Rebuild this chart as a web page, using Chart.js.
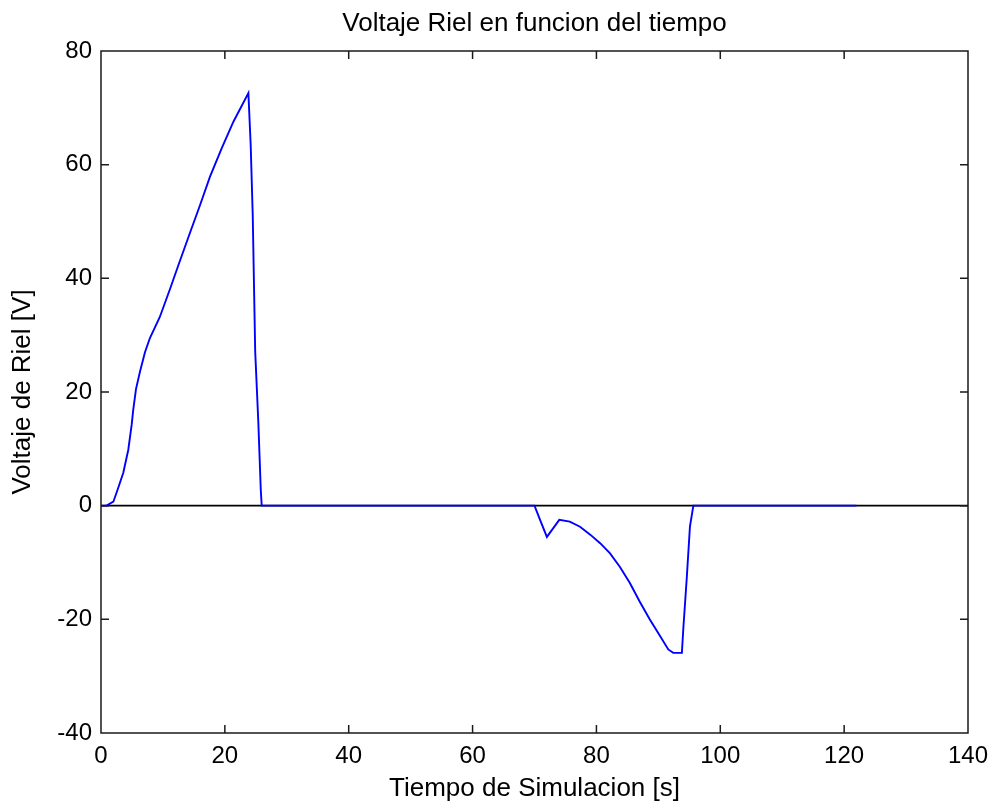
<!DOCTYPE html>
<html>
<head>
<meta charset="utf-8">
<title>Voltaje Riel en funcion del tiempo</title>
<script src="https://cdn.jsdelivr.net/npm/chart.js@4/dist/chart.umd.min.js"></script>
<style>
  html, body { margin: 0; padding: 0; background: #fff; }
  #chart { display: block; }
</style>
</head>
<body>
<canvas id="chart" width="993" height="806"></canvas>
<script>
// Rail voltage vs. simulation time (s)
const timeSeconds = [
  0, 0.9, 2.0, 2.8, 3.6, 4.4, 4.95, 5.2, 5.65, 6.3, 7.1, 7.9, 9.5, 11.1, 12.75,
  14.4, 16.0, 17.6, 19.5, 21.4, 23.8,
  24.17, 24.5, 24.7, 24.9, 25.4, 25.8, 25.95,
  70.0, 70.9, 72.0, 72.8, 74.0, 75.7, 77.35, 79.0, 80.6, 82.2, 83.8, 85.4, 87.0,
  88.6, 90.25, 91.6, 92.4, 93.8, 94.05, 94.6, 95.1, 95.65,
  122.0
];
const railVoltage = [
  0, 0, 0.7, 3.2, 5.8, 9.8, 14.2, 16.8, 20.5, 23.6, 27.0, 29.5, 33.2, 38.0, 43.1,
  48.1, 52.9, 57.9, 62.9, 67.6, 72.6,
  63.5, 51.2, 39.1, 27.1, 14.8, 2.8, 0,
  0, -2.5, -5.5, -4.3, -2.5, -2.8, -3.7, -5.1, -6.6, -8.4, -10.8, -13.6, -16.9,
  -20.0, -22.9, -25.3, -25.9, -25.9, -21.3, -12.5, -3.7, 0,
  0
];
// Zero reference line across the whole time span
const zeroLineTime = [0, 140];
const zeroLineVolt = [0, 0];

// Axis ticks
const xTicks = [0, 20, 40, 60, 80, 100, 120, 140];
const yTicks = [-40, -20, 0, 20, 40, 60, 80];

const chartTitle = 'Voltaje Riel en funcion del tiempo';
const xTitle = 'Tiempo de Simulacion [s]';
const yTitle = 'Voltaje de Riel [V]';

const FONT = '"Liberation Sans", Arial, Helvetica, sans-serif';

const toPoints = (xs, ys) => xs.map((x, i) => ({ x: x, y: ys[i] }));

// Box frame with inward-pointing tick marks on all four sides
const boxFrame = {
  id: 'boxFrame',
  afterDraw(chart) {
    const { ctx, chartArea: a, scales } = chart;
    const len = 8;
    ctx.save();
    ctx.strokeStyle = '#1a1a1a';
    ctx.lineWidth = 1.5;
    ctx.beginPath();
    ctx.rect(a.left, a.top, a.right - a.left, a.bottom - a.top);
    for (const v of xTicks) {
      const px = scales.x.getPixelForValue(v);
      ctx.moveTo(px, a.bottom); ctx.lineTo(px, a.bottom - len);
      ctx.moveTo(px, a.top); ctx.lineTo(px, a.top + len);
    }
    for (const v of yTicks) {
      const py = scales.y.getPixelForValue(v);
      ctx.moveTo(a.left, py); ctx.lineTo(a.left + len, py);
      ctx.moveTo(a.right, py); ctx.lineTo(a.right - len, py);
    }
    ctx.stroke();
    ctx.restore();
  }
};

new Chart(document.getElementById('chart'), {
  type: 'line',
  data: {
    datasets: [
      {
        data: toPoints(timeSeconds, railVoltage),
        borderColor: '#0000ff',
        borderWidth: 1.9,
        pointRadius: 0,
        tension: 0,
        fill: false,
        order: 0
      },
      {
        data: toPoints(zeroLineTime, zeroLineVolt),
        borderColor: '#000000',
        borderWidth: 1.6,
        pointRadius: 0,
        tension: 0,
        fill: false,
        order: 1
      }
    ]
  },
  options: {
    responsive: false,
    animation: false,
    devicePixelRatio: 1,
    layout: { padding: { left: 0, right: 25, top: 0, bottom: 0 } },
    plugins: {
      legend: { display: false },
      tooltip: { enabled: false },
      title: {
        display: true,
        fullSize: false,
        text: chartTitle,
        color: '#000',
        font: { family: FONT, size: 26, weight: 'normal' },
        padding: { top: 8, bottom: 11.8 }
      }
    },
    scales: {
      x: {
        type: 'linear',
        min: 0,
        max: 140,
        grid: { display: false, drawTicks: false },
        border: { display: false },
        ticks: {
          stepSize: 20,
          color: '#000',
          padding: 9,
          maxRotation: 0,
          font: { family: FONT, size: 24 }
        },
        title: {
          display: true,
          text: xTitle,
          color: '#000',
          font: { family: FONT, size: 26 },
          padding: { top: 2, bottom: 2 }
        },
        afterFit(scale) {
          scale.height = 73;
          scale.paddingLeft = 0;
          scale.paddingRight = 0;
        }
      },
      y: {
        type: 'linear',
        min: -40,
        max: 80,
        grid: { display: false, drawTicks: false },
        border: { display: false },
        ticks: {
          stepSize: 20,
          color: '#000',
          padding: 9,
          font: { family: FONT, size: 24 }
        },
        title: {
          display: true,
          text: yTitle,
          color: '#000',
          font: { family: FONT, size: 26 },
          padding: { top: 7, bottom: 7 }
        },
        afterFit(scale) {
          scale.width = 101;
          scale.paddingTop = 0;
          scale.paddingBottom = 0;
        }
      }
    }
  },
  plugins: [boxFrame]
});
</script>
</body>
</html>
